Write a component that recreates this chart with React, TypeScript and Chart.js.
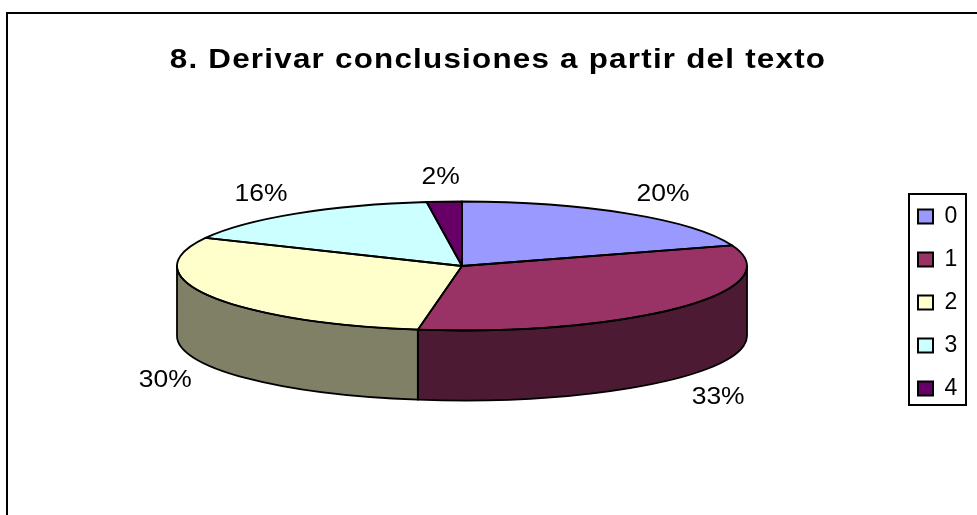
import React, { useEffect, useRef } from "react";
import { Chart, registerables } from "chart.js";

Chart.register(...registerables);

const categories = ["0", "1", "2", "3", "4"];
const shares = [20, 33, 30, 16, 2];
const topColors = ["#9999FF", "#993366", "#FFFFCC", "#CCFFFF", "#660066"];
const sideColors = ["#4D4D80", "#4D1A33", "#808066", "#668080", "#330033"];
const titleText = "8. Derivar conclusiones a partir del texto";

const CX = 462, CY = 266, RX = 285, RY = 64.5, DEPTH = 70;
const TITLE_CX = 498, TITLE_STRETCH = 1.12;
const FONT = "'Liberation Sans', Arial, sans-serif";

function applyView(ctx: CanvasRenderingContext2D, a: any) {
  const r = a.outerRadius;
  ctx.translate(CX, CY);
  ctx.scale(RX / r, RY / r);
  ctx.translate(-a.x, -a.y);
}

function sidePath(ctx: CanvasRenderingContext2D, a: any): boolean {
  const lo = Math.max(a.startAngle, 0), hi = Math.min(a.endAngle, Math.PI);
  if (hi <= lo) return false;
  const r = a.outerRadius;
  const d = DEPTH / (RY / r);
  ctx.save();
  applyView(ctx, a);
  ctx.beginPath();
  ctx.arc(a.x, a.y, r, lo, hi);
  ctx.arc(a.x, a.y + d, r, hi, lo, true);
  ctx.closePath();
  ctx.restore();
  return true;
}

const pie3d = {
  id: "pie3d",
  afterLayout(chart: any) {
    const lg = chart.legend;
    const h = lg.height, w = lg.width;
    lg.left = 898;
    lg.right = 898 + w;
    lg.top = 185;
    lg.bottom = 185 + h + 40;
    const tb = chart.titleBlock;
    if (!tb.__wrapped) {
      const orig = tb.draw.bind(tb);
      tb.draw = (...args: any[]) => {
        const ctx = chart.ctx;
        ctx.save();
        ctx.translate(TITLE_CX, 0);
        ctx.scale(TITLE_STRETCH, 1);
        ctx.translate(-TITLE_CX, 0);
        ctx.letterSpacing = "1.1px";
        orig(...args);
        ctx.letterSpacing = "0px";
        ctx.restore();
      };
      tb.__wrapped = true;
    }
  },
  beforeDatasetsDraw(chart: any) {
    const ctx = chart.ctx;
    const arcs = chart.getDatasetMeta(0).data;
    arcs.forEach((a: any, i: number) => {
      if (sidePath(ctx, a)) {
        ctx.fillStyle = sideColors[i];
        ctx.fill();
      }
    });
    ctx.save();
    applyView(ctx, arcs[0]);
  },
  afterDatasetsDraw(chart: any) {
    const ctx = chart.ctx;
    ctx.restore();
    const arcs = chart.getDatasetMeta(0).data;
    ctx.save();
    ctx.strokeStyle = "#000";
    ctx.lineWidth = 1.8;
    ctx.lineJoin = "round";
    arcs.forEach((a: any) => {
      if (sidePath(ctx, a)) ctx.stroke();
      ctx.save();
      applyView(ctx, a);
      ctx.beginPath();
      ctx.moveTo(a.x, a.y);
      ctx.arc(a.x, a.y, a.outerRadius, a.startAngle, a.endAngle);
      ctx.closePath();
      ctx.restore();
      ctx.stroke();
    });
    ctx.restore();

    // percentage labels, placed from each slice's mid angle
    ctx.save();
    ctx.fillStyle = "#000";
    ctx.font = `23px ${FONT}`;
    ctx.textAlign = "center";
    ctx.textBaseline = "middle";
    arcs.forEach((a: any, i: number) => {
      const m = (a.startAngle + a.endAngle) / 2;
      const sy = Math.sin(m);
      const lower = sy > 0;
      const x = CX + RX * (lower ? 1.175 : 1.21) * Math.cos(m);
      const y = 2.5 + CY + RY * (lower ? 1.42 : 1.41) * sy + (lower ? DEPTH : 0);
      ctx.save();
      ctx.translate(x, y);
      ctx.scale(1.15, 1);
      ctx.fillText(`${shares[i]}%`, 0, 0);
      ctx.restore();
    });
    ctx.restore();
  },
  afterDraw(chart: any) {
    const ctx = chart.ctx;
    ctx.save();
    ctx.strokeStyle = "#000";
    ctx.lineWidth = 2;
    ctx.beginPath();
    ctx.moveTo(7, 515);
    ctx.lineTo(7, 13);
    ctx.lineTo(977, 13);
    ctx.stroke();
    ctx.strokeRect(909, 194, 57, 211);
    ctx.restore();
  },
};

export default function App() {
  const ref = useRef<HTMLCanvasElement>(null);
  useEffect(() => {
    const base = (Chart as any).overrides.pie.plugins.legend.labels.generateLabels;
    const chart = new Chart(ref.current as any, {
      type: "pie",
      data: {
        labels: categories,
        datasets: [
          { data: shares, backgroundColor: topColors, borderWidth: 0, clip: false } as any,
        ],
      },
      options: {
        responsive: false,
        animation: false,
        layout: { padding: { left: 19 } },
        plugins: {
          tooltip: { enabled: false },
          title: {
            display: true,
            text: titleText,
            color: "#000",
            font: { family: FONT, size: 28, weight: "bold" },
            padding: { top: 43, bottom: 10 },
          },
          legend: {
            position: "right",
            align: "start",
            labels: {
              color: "#000",
              font: { family: FONT, size: 23 },
              boxWidth: 15,
              boxHeight: 14,
              padding: 20,
              generateLabels: (c: any) =>
                base(c).map((l: any) => ({ ...l, strokeStyle: "#000", lineWidth: 2 })),
            },
          },
        },
      },
      plugins: [pie3d as any],
    });
    return () => chart.destroy();
  }, []);
  return (
    <div style={{ position: "fixed", left: 0, top: 0, width: 977, height: 515, background: "#fff" }}>
      <canvas ref={ref} width={977} height={515} style={{ display: "block" }} />
    </div>
  );
}
